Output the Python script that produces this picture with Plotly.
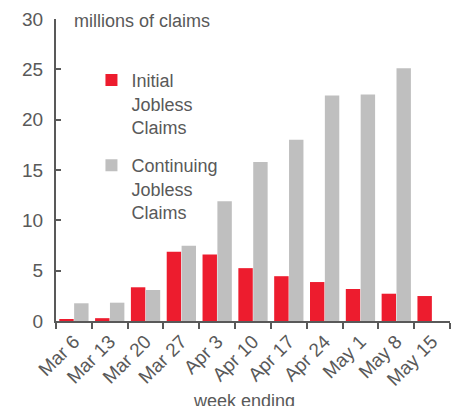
import plotly.graph_objects as go

weeks = ["Mar 6", "Mar 13", "Mar 20", "Mar 27", "Apr 3", "Apr 10",
         "Apr 17", "Apr 24", "May 1", "May 8", "May 15"]
initial_claims = [0.2, 0.28, 3.35, 6.88, 6.6, 5.25, 4.45, 3.87, 3.18, 2.71, 2.48]
continuing_claims = [1.76, 1.82, 3.08, 7.48, 11.9, 15.8, 18.0, 22.4, 22.5, 25.1, None]

RED = "#ED1C2E"
GREY = "#BFBFBF"
TXT = "#595959"
FONT = "Liberation Sans, Arial, sans-serif"

fig = go.Figure()
fig.add_trace(go.Bar(x=weeks, y=initial_claims, name="Initial<br>Jobless<br>Claims",
                     marker=dict(color=RED, line=dict(width=0)), legendgroup="a"))
fig.add_trace(go.Bar(x=weeks, y=continuing_claims, name="Continuing<br>Jobless<br>Claims",
                     marker=dict(color=GREY, line=dict(width=0)), legendgroup="b"))

fig.update_layout(
    width=454, height=406,
    margin=dict(l=56, r=4, t=19, b=85),
    plot_bgcolor="white", paper_bgcolor="white",
    font=dict(family=FONT, size=18, color=TXT),
    barmode="group", bargap=0.17, bargroupgap=0.03,
    showlegend=True,
    legend=dict(x=0.09, y=0.858, xanchor="left", yanchor="top",
                bgcolor="rgba(0,0,0,0)", font=dict(size=18, color=TXT),
                tracegroupgap=12, itemwidth=30, valign="top"),
    xaxis=dict(showline=True, linecolor=TXT, linewidth=2, ticks="outside",
               tickson="boundaries", ticklen=6, tickcolor=TXT, tickwidth=2,
               tickangle=-45, tickfont=dict(size=19, color=TXT), showgrid=False,
               automargin=False),
    yaxis=dict(range=[0, 30], dtick=5, showline=True, linecolor=TXT, linewidth=2,
               ticks="inside", ticklen=5, tickcolor=TXT, tickwidth=2,
               tickfont=dict(size=19, color=TXT), showgrid=False, zeroline=False,
               ticklabelstandoff=7, automargin=False),
    annotations=[
        dict(text="millions of claims", xref="paper", yref="paper", x=0.04, y=0.993,
             xanchor="left", yanchor="middle", showarrow=False,
             font=dict(size=18, color=TXT)),
        dict(text="week ending", xref="paper", yref="paper", x=0.478, y=-0.265,
             xanchor="center", yanchor="middle", showarrow=False,
             font=dict(size=18, color=TXT)),
    ],
)

# page body has a default 8px margin; drop it so the chart sits at the corner
fig.write_html("out.html", config={"displayModeBar": False},
               post_script="document.body.style.margin='0';")
